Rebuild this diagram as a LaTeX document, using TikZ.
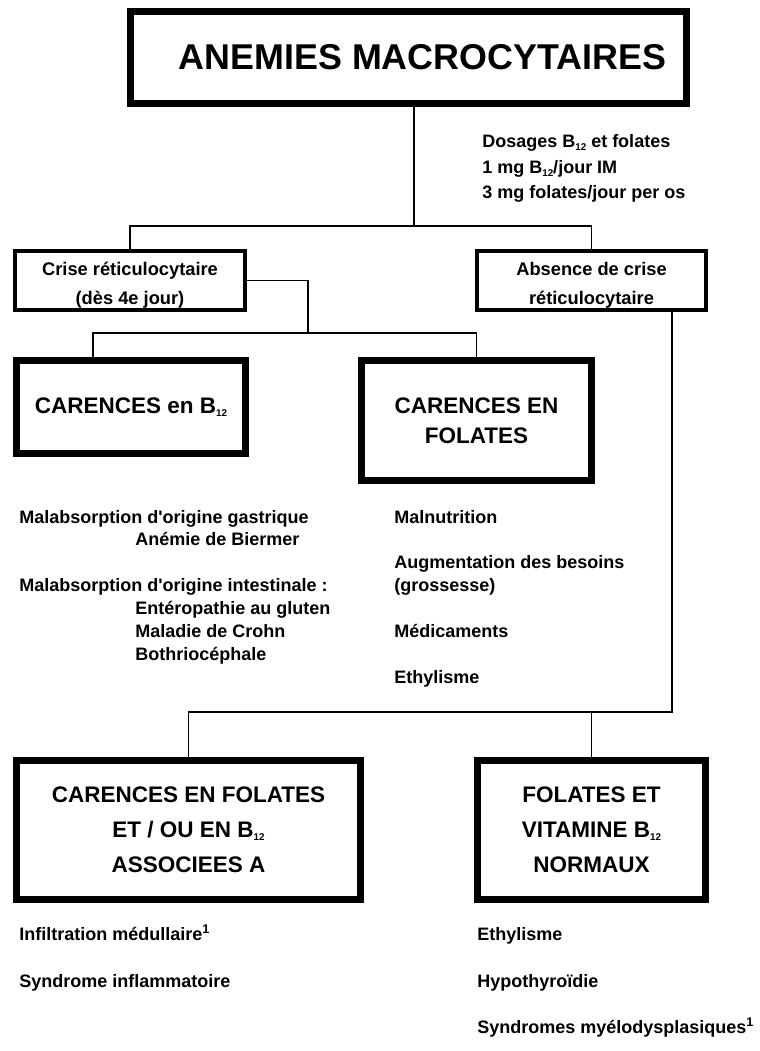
\documentclass[tikz,border=0pt]{standalone}
\usepackage{fontspec}
\setmainfont{Liberation Sans}[Ligatures=TeXOff]
\newcommand{\Bdouze}{B\raisebox{-0.25ex}{\fontsize{7}{7}\selectfont 12}}
\tikzset{
  bigbox/.style={draw,line width=5pt,inner sep=0pt,align=center,font=\fontsize{16}{25}\selectfont\bfseries},
  smallbox/.style={draw,line width=2.6pt,inner sep=0pt,align=center,text height=37pt,font=\fontsize{13}{21}\selectfont\bfseries},
  txt/.style={anchor=base west,inner sep=0pt,font=\fontsize{12.8}{17}\selectfont\bfseries},
  link/.style={line width=1.2pt},
}
\begin{document}
\begin{tikzpicture}[x=0.025cm,y=-0.025cm]
\useasboundingbox (0,0) rectangle (759,1051);
\node[bigbox,font=\fontsize{25.5}{30}\selectfont\bfseries,minimum width=13.9cm,minimum height=2.3cm] (anemies) at (408.5,57.5) {\hspace*{0.7cm}ANEMIES MACROCYTAIRES};
\node[smallbox,minimum width=5.75cm,minimum height=1.475cm] (crise) at (130,280.5) {Crise réticulocytaire\\(dès 4e jour)};
\node[smallbox,minimum width=5.725cm,minimum height=1.475cm] (absence) at (591.5,280.5) {Absence de crise\\réticulocytaire};
\node[bigbox,minimum width=5.725cm,minimum height=2.325cm] (carb) at (131,407) {CARENCES en \Bdouze};
\node[bigbox,font=\fontsize{16}{21}\selectfont\bfseries,minimum width=5.75cm,minimum height=3cm] (carfol) at (476.5,420.5) {CARENCES EN\\FOLATES};
\node[bigbox,minimum width=8.6cm,minimum height=3.475cm] (assoc) at (188.5,830) {CARENCES EN FOLATES\\ET / OU EN \Bdouze\\ASSOCIEES A};
\node[bigbox,minimum width=5.7cm,minimum height=3.475cm] (normaux) at (591.5,830) {FOLATES ET\\VITAMINE \Bdouze\\NORMAUX};
% connectors
\coordinate (nA) at (414,226);
\coordinate (nB) at (308,333);
\coordinate (nB0) at (93,333);
\coordinate (nC) at (672,712);
\draw[link] (anemies.south -| nA) -- (nA);
\draw[link] (crise.north) |- (nA) -| (absence.north);
\draw[link] (crise.east) -| (nB);
\draw[link] (carb.north -| nB0) |- (nB) -| (carfol.north);
\draw[link] (absence.south -| nC) -- (nC) -| (assoc.north);
\draw[link] (normaux.north) -- (normaux.north |- nC);
% texts
\node[txt] (dos) at (482,148) {Dosages \Bdouze{} et folates};
\node[txt] (dose1) at (482,174) {1 mg \Bdouze/jour IM};
\node[txt] (dose2) at (482,198) {3 mg folates/jour per os};
\node[txt] (gastr) at (19,523) {Malabsorption d'origine gastrique};
\node[txt] (biermer) at (135,545) {Anémie de Biermer};
\node[txt] (intest) at (19,591) {Malabsorption d'origine intestinale :};
\node[txt] (gluten) at (135,614) {Entéropathie au gluten};
\node[txt] (crohn) at (135,637) {Maladie de Crohn};
\node[txt] (bothrio) at (135,660) {Bothriocéphale};
\node[txt] (malnut) at (394,523) {Malnutrition};
\node[txt] (besoins) at (394,568) {Augmentation des besoins};
\node[txt] (grossesse) at (394,591) {(grossesse)};
\node[txt] (medic) at (394,637) {Médicaments};
\node[txt] (ethyl) at (394,683) {Ethylisme};
\node[txt] (infiltr) at (19,940) {Infiltration médullaire\textsuperscript{1}};
\node[txt] (inflam) at (19,987) {Syndrome inflammatoire};
\node[txt] (ethylb) at (477,940) {Ethylisme};
\node[txt] (hypo) at (477,987) {Hypothyroïdie};
\node[txt] (myelo) at (477,1033) {Syndromes myélodysplasiques\textsuperscript{1}};
\end{tikzpicture}
\end{document}
